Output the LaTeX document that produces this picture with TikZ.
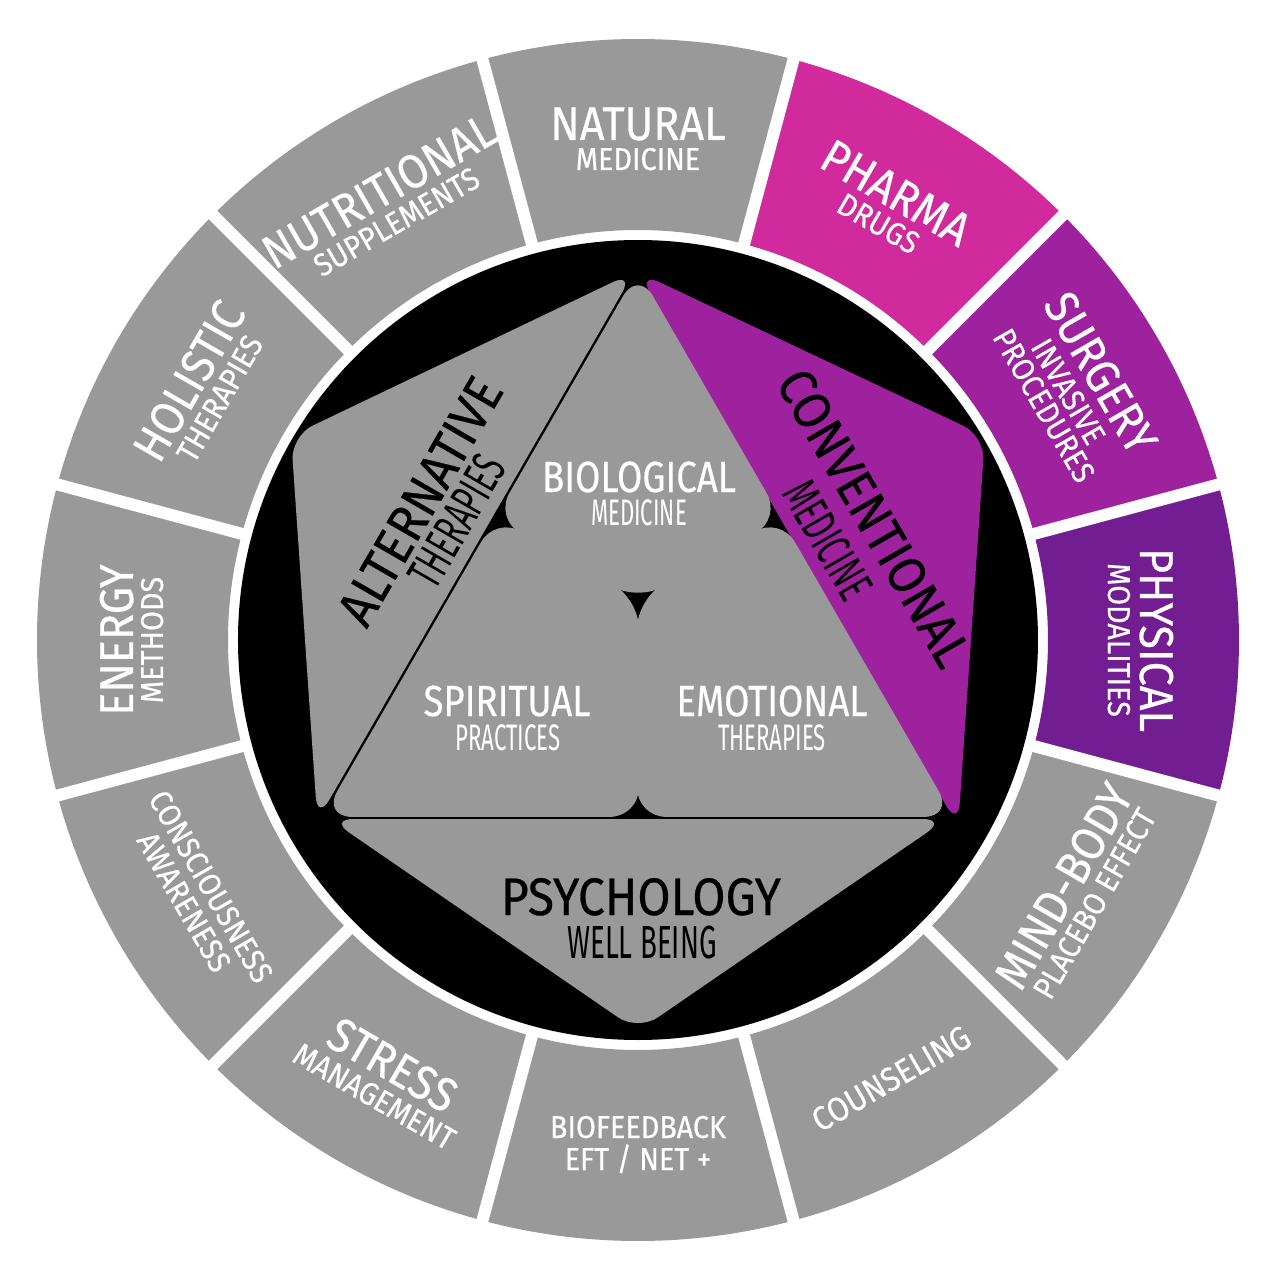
\documentclass[tikz,border=0pt]{standalone}
\usepackage{fontspec}
\setmainfont{Fira Sans}[FakeStretch=0.91, FakeBold=0.5]
\newfontfamily\narrowfont{Fira Sans}[FakeStretch=0.84, FakeBold=0.4]
\newfontfamily\condfont{Fira Sans}[FakeStretch=0.6]

\definecolor{wheelgray}{HTML}{999999}
\definecolor{pharmapink}{HTML}{D02A9C}
\definecolor{surgerypurple}{HTML}{9E219E}
\definecolor{physicalviolet}{HTML}{721D92}

\tikzset{
  gapline/.style={white, line width=1.2mm},
  piece/.style={fill=#1, rounded corners=2.4mm},
  lobe/.style={fill=wheelgray, draw=wheelgray, line width=0.5pt, rounded corners=2.8mm},
  ringtitle/.style={text=white, anchor=base, inner sep=0pt, font=\fontsize{13.5}{13.5}\selectfont},
  ringsub/.style={text=white, anchor=base, inner sep=0pt, font=\fontsize{9}{9}\selectfont},
  lobetitle/.style={text=white, anchor=base, inner sep=0pt, font=\narrowfont\fontsize{12.4}{12.4}\selectfont},
  lobesub/.style={text=white, anchor=base, inner sep=0pt, font=\condfont\fontsize{10.5}{10.5}\selectfont},
  sidetitle/.style={text=black, inner sep=0pt, font=\fontsize{15}{15}\selectfont},
  sidesub/.style={text=black, inner sep=0pt, font=\condfont\fontsize{14}{14}\selectfont}
}

\begin{document}
\begin{tikzpicture}
  \fill[white] (-6.38,-6.38) rectangle (6.40,6.40);
  \useasboundingbox (-6.38,-6.38) rectangle (6.40,6.40);

  % outer ring
  \foreach \c/\col in {90/wheelgray,60/pharmapink,30/surgerypurple,0/physicalviolet,-30/wheelgray,-60/wheelgray,-90/wheelgray,-120/wheelgray,-150/wheelgray,180/wheelgray,150/wheelgray,120/wheelgray}
    \fill[\col] ({\c-15}:4.10) arc[start angle={\c-15}, end angle={\c+15}, radius=4.10]
      -- ({\c+15}:6.01) arc[start angle={\c+15}, end angle={\c-15}, radius=6.01] -- cycle;
  \foreach \c in {0,30,...,330}
    \draw[gapline] ({\c+15}:3.95) -- ({\c+15}:6.20);

  \fill[black] (0,0) circle[radius=4.00];

  % inner pieces
  \coordinate (apex) at (0,3.68);
  \coordinate (triL) at (-3.141,-1.76);
  \coordinate (triR) at (3.141,-1.76);
  \coordinate (hub) at (0,0.40);
  \coordinate (footL) at (-1.42,1.22);
  \coordinate (footR) at (1.42,1.22);
  \coordinate (footB) at (0,-1.76);
  \coordinate (altTop) at (-0.040,3.68);
  \coordinate (altUp) at (-3.47,2.04);
  \coordinate (altLow) at (-3.206,-1.804);
  \coordinate (convUp) at (3.47,2.04);
  \coordinate (convLow) at (3.202,-1.866);
  \coordinate (psyL) at (-3.086,-1.79);
  \coordinate (psyR) at (3.086,-1.79);
  \coordinate (psyBot) at (0,-3.91);

  \fill[piece=wheelgray] (altTop) -- (altUp) -- (altLow) -- cycle;
  \fill[piece=surgerypurple] (apex) -- (convUp) -- (convLow) -- cycle;
  \fill[piece=wheelgray] (psyL) -- (psyR) -- (psyBot) -- cycle;
  \filldraw[lobe] (apex) -- (footL) -- (hub) -- (footR) -- cycle;
  \filldraw[lobe] (footL) -- (triL) -- (footB) -- (hub) -- cycle;
  \filldraw[lobe] (footR) -- (hub) -- (footB) -- (triR) -- cycle;

  % ring labels, upper half
  \node[ringtitle] (natural) at (90:5.00) {NATURAL};
  \node[ringsub] (naturalsub) at (90:4.70) {MEDICINE};
  \node[ringtitle, rotate=-30] (pharma) at (60:5.00) {PHARMA};
  \node[ringsub, rotate=-30] (pharmasub) at (60:4.70) {DRUGS};
  \node[ringtitle, rotate=-60] (surgery) at (30:5.18) {SURGERY};
  \node[ringsub, rotate=-60] (surgerysub) at (30:4.86) {INVASIVE};
  \node[ringsub, rotate=-60] (surgerysubb) at (30:4.58) {PROCEDURES};
  \node[ringtitle, rotate=-90] (physical) at (0:5.02) {PHYSICAL};
  \node[ringsub, rotate=-90] (physicalsub) at (0:4.70) {MODALITIES};
  \node[ringtitle, rotate=90] (energy) at (180:5.05) {ENERGY};
  \node[ringsub, rotate=90] (energysub) at (180:4.75) {METHODS};
  \node[ringtitle, rotate=60] (holistic) at (150:5.02) {HOLISTIC};
  \node[ringsub, rotate=60] (holisticsub) at (150:4.72) {THERAPIES};
  \node[ringtitle, rotate=30] (nutritional) at (120:5.02) {NUTRITIONAL};
  \node[ringsub, rotate=30] (nutritionalsub) at (120:4.72) {SUPPLEMENTS};

  % ring labels, lower half
  \node[ringtitle, rotate=60] (mindbody) at (-30:5.08) {MIND-BODY};
  \node[ringsub, rotate=60] (mindbodysub) at (-30:5.38) {PLACEBO EFFECT};
  \node[ringsub, rotate=30, font=\fontsize{9.6}{9.6}\selectfont] (counseling) at (-60:5.18) {COUNSELING};
  \node[ringsub] (biofeedback) at (-90:4.98) {BIOFEEDBACK};
  \node[ringsub] (biofeedbacksub) at (-90:5.30) {EFT / NET +};
  \node[ringtitle, rotate=-30] (stress) at (-120:5.07) {STRESS};
  \node[ringsub, rotate=-30] (stresssub) at (-120:5.38) {MANAGEMENT};
  \node[ringsub, rotate=-60] (consciousness) at (-150:5.04) {CONSCIOUSNESS};
  \node[ringsub, rotate=-60] (consciousnesssub) at (-150:5.35) {AWARENESS};

  % inner labels
  \node[lobetitle] (biological) at (0.01,1.48) {BIOLOGICAL};
  \node[lobesub] (biologicalsub) at (0.01,1.15) {MEDICINE};
  \node[lobetitle] (spiritual) at (-1.31,-0.76) {SPIRITUAL};
  \node[lobesub] (spiritualsub) at (-1.30,-1.10) {PRACTICES};
  \node[lobetitle] (emotional) at (1.34,-0.76) {EMOTIONAL};
  \node[lobesub] (emotionalsub) at (1.34,-1.10) {THERAPIES};
  \node[sidetitle, rotate=60] (alternative) at (-2.18,1.39) {ALTERNATIVE};
  \node[sidesub, rotate=60] (alternativesub) at (-1.81,1.19) {THERAPIES};
  \node[sidetitle, rotate=-60] (conventional) at (2.36,1.22) {CONVENTIONAL};
  \node[sidesub, rotate=-60] (conventionalsub) at (1.90,1.00) {MEDICINE};
  \node[sidetitle, anchor=base, font=\fontsize{15}{15}\selectfont] (psychology) at (0.03,-2.75) {PSYCHOLOGY};
  \node[sidesub, anchor=base, font=\condfont\fontsize{13.2}{13.2}\selectfont] (psychologysub) at (0.04,-3.18) {WELL BEING};
\end{tikzpicture}
\end{document}
